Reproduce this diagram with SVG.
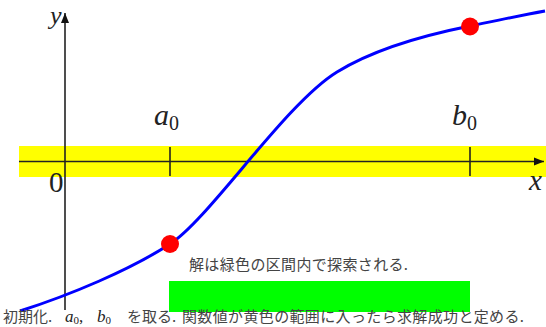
<svg xmlns="http://www.w3.org/2000/svg" width="546" height="327" viewBox="0 0 546 327">
  <defs>
    <style>
      .axis { stroke: #222; stroke-width: 1.6; fill: none; }
      .tick { stroke: #222; stroke-width: 1.6; }
      .curve { stroke: #0000ff; stroke-width: 3; fill: none; }
      .pt { fill: #ff0000; }
      .math { font-family: "Liberation Serif", "DejaVu Serif", serif; font-style: italic; fill: #222; }
      .num { font-family: "Liberation Serif", "DejaVu Serif", serif; fill: #222; }
      .jp { font-family: "Noto Sans CJK JP", "Noto Sans", sans-serif; font-size: 15px; fill: #444; }
    </style>
    <marker id="arr" viewBox="0 0 10 10" refX="10" refY="5" markerWidth="10" markerHeight="10" markerUnits="userSpaceOnUse" orient="auto">
      <path d="M0,1 L10,5 L0,9 Z" fill="#111"/>
    </marker>
  </defs>

  <g id="yellow-band">
    <rect x="19" y="146" width="527" height="31" fill="#ffff00"/>
  </g>
  <g id="green-band">
    <rect x="169" y="281" width="301" height="31" fill="#00ff00"/>
  </g>

  <g id="connectors">
    <line id="x-axis" class="axis" x1="19" y1="161.5" x2="544" y2="161.5" marker-end="url(#arr)"/>
    <line id="y-axis" class="axis" x1="65" y1="310" x2="65" y2="13" marker-end="url(#arr)"/>
    <line class="tick" x1="170" y1="147" x2="170" y2="176"/>
    <line class="tick" x1="470" y1="147" x2="470" y2="176"/>
  </g>

  <g id="curve">
    <path class="curve" d="M20,311 C70,295 130,270 170,244 C210,218 285,104 337,72 C377,47.4 430,34 470,26 C500,20 520,15.5 545,11"/>
  </g>

  <g id="point-a">
    <circle class="pt" cx="170" cy="244" r="9"/>
  </g>
  <g id="point-b">
    <circle class="pt" cx="470" cy="26.5" r="9"/>
  </g>

  <g id="labels">
    <text class="math" x="50" y="23.5" font-size="26">y</text>
    <text class="math" x="529" y="190" font-size="29">x</text>
    <text class="num" x="49" y="192" font-size="29">0</text>
    <text x="154" y="125"><tspan class="math" font-size="30">a</tspan><tspan class="num" font-size="20" dy="5">0</tspan></text>
    <text x="452" y="125"><tspan class="math" font-size="30">b</tspan><tspan class="num" font-size="20" dy="5">0</tspan></text>
  </g>

  <g id="caption-top">
    <text class="jp" x="189" y="270" textLength="219" lengthAdjust="spacing">解は緑色の区間内で探索される.</text>
  </g>

  <g id="caption-bottom">
    <text class="jp" x="3" y="322">初期化.</text>
    <text x="65" y="322"><tspan class="math" font-size="17">a</tspan><tspan class="num" font-size="11" dy="2">0</tspan><tspan class="num" font-size="17" dy="-2">,</tspan></text>
    <text x="97" y="322"><tspan class="math" font-size="17">b</tspan><tspan class="num" font-size="11" dy="2">0</tspan></text>
    <text class="jp" x="127" y="322">を取る.</text>
    <text class="jp" x="182" y="322" textLength="342" lengthAdjust="spacing">関数値が黄色の範囲に入ったら求解成功と定める.</text>
  </g>
</svg>
